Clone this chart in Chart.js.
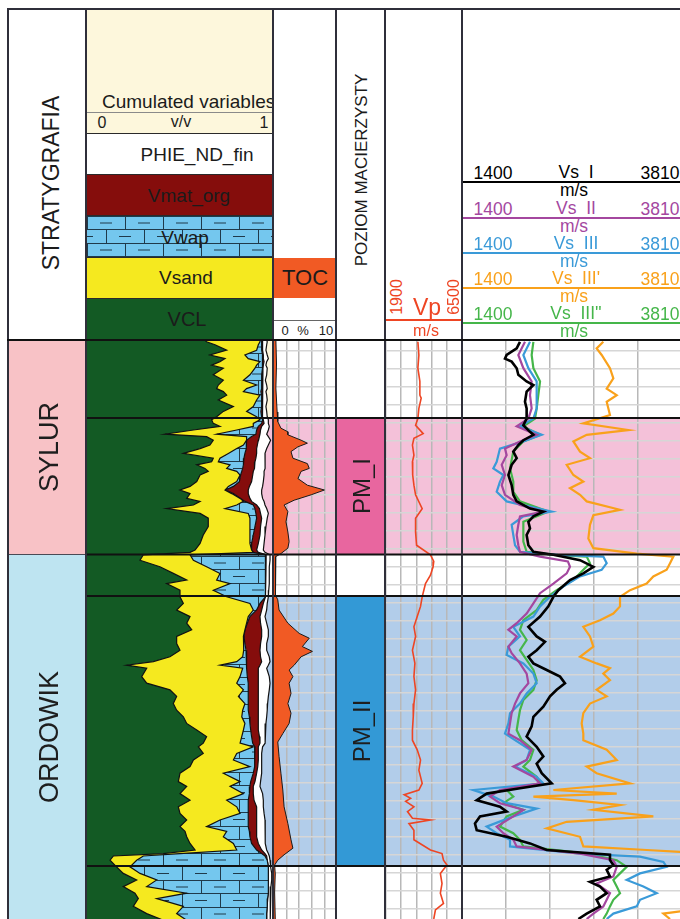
<!DOCTYPE html>
<html>
<head>
<meta charset="utf-8">
<title>Profil otworu</title>
<script src="https://cdn.jsdelivr.net/npm/chart.js@4.4.0/dist/chart.umd.min.js"></script>
<style>
  html, body { margin: 0; padding: 0; background: #fff; }
  #log { position: relative; width: 680px; height: 919px; overflow: hidden;
         font-family: "Liberation Sans", Arial, sans-serif; color: #1b1b1b; }
  .abs { position: absolute; }
  .trk { position: absolute; top: 340px; height: 579px; }
  .sep { position: absolute; top: 8px; width: 2px; height: 911px; background: #2f2f3a; z-index: 5; }
  .rot { position: absolute; transform: translate(-50%, -50%) rotate(-90deg); white-space: nowrap; line-height: 1; z-index: 6; }
  .ctr { position: absolute; transform: translate(-50%, -50%); white-space: nowrap; line-height: 1; z-index: 6; }
  .box { position: absolute; left: 87px; width: 185px; border-top: 1.5px solid #2a2a2a; box-sizing: border-box; }
</style>
</head>
<body>
<div id="log">
  <!-- header: stratigraphy -->
  <div class="rot" style="left:51px;top:183px;font-size:23px">STRATYGRAFIA</div>

  <!-- header: cumulated variables -->
  <div class="abs" style="left:87px;top:9px;width:185px;height:124px;background:#fdf7dc;overflow:hidden">
    <div class="abs" style="left:15px;top:83px;font-size:19px;white-space:nowrap;line-height:1">Cumulated variables</div>
    <div class="abs" style="left:0;top:103px;width:185px;height:1px;background:#8a8a8a"></div>
  </div>
  <div class="ctr" style="left:102px;top:123px;font-size:16px">0</div>
  <div class="ctr" style="left:181px;top:122px;font-size:16px">v/v</div>
  <div class="ctr" style="left:264px;top:123px;font-size:16px">1</div>
  <div class="box" style="top:133px;height:41px;background:#fff"></div>
  <div class="box" style="top:174px;height:41px;background:#850d0c"></div>
  <div class="box" id="wapBox" style="top:215px;height:42px;background-color:#74c7ee"></div>
  <div class="box" style="top:257px;height:41px;background:#f5e91f"></div>
  <div class="box" style="top:298px;height:42px;background:#135a24"></div>
  <div class="ctr" style="left:197px;top:154px;font-size:19px">PHIE_ND_fin</div>
  <div class="ctr" style="left:189px;top:195px;font-size:19px">Vmat_org</div>
  <div class="ctr" style="left:185px;top:237px;font-size:19px">Vwap</div>
  <div class="ctr" style="left:186px;top:277px;font-size:19px">Vsand</div>
  <div class="ctr" style="left:187px;top:319px;font-size:20px">VCL</div>

  <!-- header: TOC -->
  <div class="abs" style="left:274px;top:258px;width:61px;height:40px;background:#f15a24"></div>
  <div class="ctr" style="left:305px;top:278px;font-size:22px">TOC</div>
  <div class="abs" style="left:274px;top:320px;width:61px;height:1px;background:#666"></div>
  <div class="ctr" style="left:285px;top:330px;font-size:13px">0</div>
  <div class="ctr" style="left:303px;top:330px;font-size:13px">%</div>
  <div class="ctr" style="left:326px;top:330px;font-size:13px">10</div>

  <!-- header: source rock level -->
  <div class="rot" style="left:361px;top:170px;font-size:17px">POZIOM MACIERZYSTY</div>

  <!-- header: Vp -->
  <div class="abs" style="left:386px;top:319px;width:75px;height:2px;background:#ee4523"></div>
  <div class="rot" id="vpMin" style="left:397px;top:297px;font-size:16px;color:#ee4523"></div>
  <div class="rot" id="vpMax" style="left:454px;top:297px;font-size:16px;color:#ee4523"></div>
  <div class="ctr" style="left:427px;top:307px;font-size:23px;color:#ee4523">Vp</div>
  <div class="ctr" style="left:426px;top:331px;font-size:16px;color:#ee4523">m/s</div>

  <!-- tracks -->
  <div class="trk" style="left:8px;width:77px"><canvas id="stratChart"></canvas></div>
  <div class="trk" style="left:87px;width:186px"><canvas id="cumChart"></canvas></div>
  <div class="trk" style="left:274px;width:63px"><canvas id="tocChart"></canvas></div>
  <div class="trk" style="left:337px;width:48px"><canvas id="levelChart"></canvas></div>
  <div class="trk" style="left:386px;width:76px"><canvas id="vpChart"></canvas></div>
  <div class="trk" style="left:462px;width:220px"><canvas id="vsChart"></canvas></div>

  <!-- frame and track separators -->
  <div class="abs" style="left:7px;top:8px;width:673px;height:1.5px;background:#2f2f3a;z-index:5"></div>
  <div class="sep" style="left:7px;width:1.5px"></div>
  <div class="sep" style="left:85px"></div>
  <div class="sep" style="left:272px"></div>
  <div class="sep" style="left:335px"></div>
  <div class="sep" style="left:384px"></div>
  <div class="sep" style="left:461px"></div>
  <div class="abs" style="left:7px;top:339px;width:673px;height:2px;background:#111;z-index:5"></div>
</div>

<script>
// depth in metres below the top of the shown interval
const DEPTH_TOP = 0, DEPTH_BASE = 96.5;
const GRID_FIRST = 1.83, GRID_STEP = 3;

const horizonDepth = [13.0, 35.75, 42.67, 87.67];
const formationName = ["SYLUR", "ORDOWIK"];
const formationTop = [0, 35.75];
const formationBase = [35.75, 96.5];
const levelName = ["PM_I", "PM_II"];
const levelTop = [13.0, 42.67];
const levelBase = [35.75, 87.67];

// --------------------
// Cumulated variables (v/v), upper boundary of each component
// --------------------
const cumDepth = [0,0.3,0.8,1.7,2.5,3.1,3.6,4.2,4.7,5.8, 6.7,7.5,8.1,8.6,9.2,10.0,11.1,11.9,12.8,13.3,
  13.9,14.4,15.0,15.7,16.1,16.7,17.5,18.1,18.9,19.7, 20.3,20.8,21.4,21.9,22.5,23.6,24.4,25.0,25.6,26.4,
  26.9,27.5,28.1,28.9,29.7,31.1,32.5,33.9,35.0,35.4, 35.8,36.7,37.8,38.9,40.0,40.6,41.7,42.8,43.9,45.0,
  46.1,47.2,48.3,49.4,50.6,51.7,52.8,53.6,54.2,54.7, 56.1,57.2,58.3,59.4,60.6,61.7,62.8,63.9,65.0,66.1,
  67.2,67.8,68.9,70.0,71.1,72.2,73.6,74.4,75.6,76.7, 77.8,78.9,80.0,81.1,81.9,82.8,83.9,85.0,85.6,86.0,
  86.7,87.8,88.9,90.0,91.1,92.2,93.1,94.4,95.6,96.7];
const cumVCL = [.634,.643,.688,.751,.661,.742,.715,.670,.733,.679, .733,.706,.697,.733,.751,.706,.787,.733,.697,.670,
  .679,.715,.572,.419,.643,.679,.661,.608,.518,.679, .670,.590,.634,.652,.608,.590,.554,.500,.554,.536,
  .608,.572,.428,.608,.652,.652,.625,.608,.581,.554, .303,.285,.392,.464,.536,.428,.500,.500,.518,.482,
  .554,.536,.563,.482,.482,.500,.446,.357,.213,.321, .294,.321,.446,.482,.464,.482,.518,.536,.590,.643,
  .625,.599,.625,.572,.554,.500,.491,.536,.500,.554, .491,.500,.536,.500,.527,.536,.554,.581,.410,.142,
  .124,.159,.195,.267,.195,.258,.276,.249,.321,.410];
const cumVsand = [.930,.930,.921,.912,.849,.867,.930,.912,.903,.876, .841,.912,.858,.841,.930,.912,.894,.858,.912,.930,
  .894,.894,.805,.697,.858,.858,.841,.805,.760,.715, .706,.769,.751,.805,.823,.805,.760,.742,.778,.823,
  .841,.805,.742,.867,.876,.876,.876,.876,.885,.894, .554,.572,.643,.715,.697,.769,.679,.751,.876,.894,
  .867,.858,.849,.841,.841,.844,.837,.805,.715,.837, .823,.805,.841,.814,.849,.837,.832,.849,.841,.832,
  .823,.894,.805,.787,.876,.733,.823,.769,.841,.751, .805,.823,.715,.643,.751,.733,.787,.805,.500,.303,
  .267,.231,.285,.375,.321,.536,.375,.518,.482,.536];
const cumVwap = [.939,.939,.939,.939,.944,.944,.944,.944,.941,.939, .939,.939,.939,.935,.939,.939,.939,.935,.939,.944,
  .939,.921,.912,.908,.885,.858,.858,.855,.849,.844, .841,.841,.837,.832,.826,.819,.787,.746,.787,.826,
  .849,.894,.903,.908,.912,.903,.894,.885,.885,.894, .962,.962,.962,.959,.959,.959,.957,.957,.930,.912,
  .876,.862,.849,.844,.849,.855,.858,.858,.858,.858, .862,.867,.867,.867,.867,.867,.873,.876,.880,.885,
  .891,.903,.903,.903,.898,.894,.880,.876,.873,.867, .867,.867,.867,.867,.873,.876,.885,.912,.939,.957,
  .969,.975,.975,.975,.975,.975,.971,.969,.966,.966];
const cumVmatOrg = [.944,.944,.944,.944,.948,.948,.952,.948,.946,.944, .944,.944,.944,.941,.944,.944,.944,.943,.944,.948,
  .952,.939,.933,.930,.927,.921,.916,.912,.912,.908, .903,.903,.898,.894,.891,.885,.873,.867,.867,.876,
  .885,.912,.927,.933,.939,.933,.930,.921,.912,.921, .962,.962,.962,.959,.959,.959,.957,.957,.948,.939,
  .930,.933,.939,.939,.933,.930,.933,.939,.930,.921, .921,.921,.921,.921,.921,.921,.921,.921,.921,.927,
  .930,.921,.921,.921,.918,.912,.903,.894,.894,.898, .912,.912,.912,.912,.912,.912,.921,.939,.957,.966,
  .969,.975,.975,.975,.975,.975,.971,.969,.966,.966];
const cumPHIE = [.966,.969,.966,.962,.969,.975,.966,.962,.969,.966, .959,.966,.969,.962,.966,.969,.962,.966,.969,.975,
  .975,.980,.975,.966,.975,.987,.975,.966,.957,.959, .957,.957,.957,.952,.952,.948,.944,.939,.939,.944,
  .952,.957,.966,.975,.969,.962,.957,.952,.948,.957, .984,.984,.980,.980,.980,.980,.977,.975,.969,.966,
  .957,.966,.975,.975,.966,.966,.980,.984,.975,.966, .980,.984,.980,.975,.971,.969,.966,.962,.959,.957,
  .957,.944,.939,.939,.939,.939,.933,.930,.944,.948, .948,.952,.957,.957,.957,.957,.962,.966,.975,.980,
  .984,.987,.993,.993,.989,.987,.987,.984,.984,.984];

// --------------------
// TOC (%)
// --------------------
const tocDepth = [0,4,8,12,13.6,14.7,15.3,15.8,16.7,17.2, 17.8,18.6,19.7,20.6,21.4,21.9,23.1,24.2,25.0,25.8,
  26.7,27.5,28.6,30.3,32.0,33.6,34.7,35.6,36.1,37.0, 40.0,42.5,43.3,45.0,47.2,48.9,49.7,51.1,51.9,52.8,
  54.2,55.0,56.1,57.2,58.9,60.6,62.2,63.9,65.6,67.0, 69.4,72.2,75.0,77.8,80.6,83.3,84.7,85.8,86.7,87.5,
  89.0,92.0,96.5];
const toc = [0.3,0.4,0.3,0.5,0.6,1.1,2.2,2.2,4.3,5.3, 3.8,2.7,3.0,5.3,5.6,4.3,3.8,5.3,8.0,5.9,
  3.2,1.6,2.2,1.9,2.2,2.4,2.2,1.1,0.3,0.2, 0.2,0.3,0.6,0.8,2.2,4.0,5.6,4.5,6.1,4.3,
  3.2,2.4,3.0,2.4,2.7,2.2,2.7,2.4,1.4,0.6, 0.8,1.1,1.4,1.6,2.2,2.7,3.0,1.6,0.6,0.1,
  0.2,0.1,0.2];

// --------------------
// Vp (m/s)
// --------------------
const VP_MIN = 1900, VP_MAX = 6500;
const vpDepth = [0.3,2.5,4.7,6.9,9.2,9.7,11.4,13.1,14.2,15.6, 16.4,17.5,19.2,20.3,21.4,22.5,24.2,25.8,28.1,29.7,
  32.0,34.2,35.8,36.9,37.8,39.2,40.6,41.7,42.8,44.4, 46.1,47.8,49.4,51.7,53.9,56.1,58.3,60.6,62.8,65.0,
  66.7,68.3,70.0,71.7,73.9,75.0,75.8,76.4,76.9,77.8, 78.6,79.7,80.0,80.6,81.7,83.3,85.0,85.6,86.7,87.5,
  88.9,90.6,92.2,93.9,95.0,96.5];
const vp = [3830,3890,3830,3950,3950,4030,3890,3830,3690,4150, 3590,3500,3590,3500,3530,3500,3590,3690,4090,3690,
  3690,3750,4590,4790,4750,4590,4290,4190,4090,3990, 3790,3590,3690,3500,3650,3590,3690,3590,3550,3500,
  3500,3790,3990,3890,4090,3890,3000,3390,3090,3590, 3200,3500,4590,3290,3590,3590,4590,5290,5380,5590,
  5190,5290,5190,5380,4890,4790];

// --------------------
// Vs (m/s), five variants
// --------------------
const VS_MIN = 1400, VS_MAX = 3810;
const vsIDepth = [0.3,1.4,2.5,3.1,3.6,4.7,5.8,6.9,7.5,8.6, 10.3,11.4,13.1,14.2,15.3,15.8,16.7,17.5,18.6,19.7,
  20.8,22.5,24.2,25.8,26.9,28.1,28.6,29.4,30.3,31.4, 32.5,34.2,35.3,35.8,36.7,37.8,38.9,40.0,41.7,42.8,
  44.4,46.1,47.8,49.4,50.3,51.7,52.8,53.9,55.0,56.1, 57.2,58.3,59.4,61.1,62.8,64.4,66.1,67.8,69.4,70.6,
  72.2,73.9,74.7,75.6,76.7,77.8,78.6,79.4,80.6,81.7, 82.8,83.9,85.0,85.8,86.7,87.5,88.3,89.4,90.3,91.1,
  92.2,93.3,94.4,95.6,96.5];
const vsI = [2035,1999,1889,1871,1944,1999,2017,2108,2182,2108, 2090,2108,2108,2072,2145,2182,2072,2017,1962,1999,
  1944,1908,1944,1962,1999,2145,2291,2182,2127,2145, 2108,2127,2182,2401,2693,2839,2729,2583,2455,2401,
  2346,2255,2127,2218,2309,2218,2127,2182,2328,2474, 2528,2437,2364,2291,2182,2163,2108,2218,2291,2218,
  2273,2382,2035,1670,1561,1816,1889,1597,1542,1561, 1889,2145,2328,3021,3021,3058,2985,3021,2802,2912,
  2985,2875,2912,2766,2675];
const vsIIDepth = [0.3,2.5,4.7,6.9,9.2,11.4,13.1,14.4,15.8,16.9, 18.1,19.2,20.8,22.5,24.2,25.8,27.5,28.6,29.4,30.8,
  32.5,34.2,35.3,36.1,36.9,37.8,38.9,40.6,42.2,43.9, 45.6,47.2,48.3,49.4,51.1,52.2,53.9,55.6,57.2,58.9,
  60.6,62.2,63.9,65.6,66.7,68.3,70.0,71.1,72.8,73.9, 75.0,76.1,77.2,78.3,79.4,81.1,82.2,83.3,84.4,85.6,
  86.7,87.8,89.4,90.6,92.2,93.3,94.4,95.6,96.5];
const vsII = [2090,2017,2072,2163,2145,2163,2127,1999,2218,2035, 1871,1889,1835,1871,1835,1871,2035,2291,2035,2017,
  1999,2017,2035,2255,2560,2583,2547,2401,2255,2182, 2108,1999,1908,1999,1908,1944,2035,2108,2127,2035,
  1981,1944,1926,1908,2035,2163,2108,1962,2182,2255, 1816,1707,1816,2072,1962,1780,1853,1962,1999,2693,
  3058,3095,3058,2875,3021,2985,2948,2839,2766];
const vsIIIDepth = [0.3,2.5,4.7,6.9,9.2,11.4,13.1,14.4,15.8,16.9, 18.1,20.3,21.4,22.5,23.6,25.3,26.9,28.6,29.4,30.8,
  32.5,34.2,35.3,35.8,36.1,37.2,38.3,39.4,41.1,42.8, 44.4,46.1,47.8,49.4,51.1,52.5,53.9,55.6,57.2,58.9,
  60.6,62.2,63.9,65.6,66.7,68.3,70.0,71.1,72.8,73.9, 75.0,76.1,77.2,78.1,79.4,81.1,82.2,83.3,84.4,85.6,
  86.1,87.0,87.8,88.9,90.0,91.1,92.2,93.3,94.4,95.6, 96.5];
const vsIII = [2145,2072,2127,2218,2218,2218,2182,2035,2273,2072, 1816,1780,1743,1853,1816,1780,1889,2382,2072,1944,
  1962,1981,2035,2450,2948,2985,2930,2693,2510,2364, 2255,2182,1962,2035,1908,1889,2072,2182,2218,2108,
  2035,1926,1908,1871,1981,2145,2108,1981,2218,2291, 1524,1743,1889,2218,1962,1670,1780,1926,1926,2693,
  3350,3606,3642,3350,3204,3387,3533,3350,3314,3058, 2985];
const vsIII1Depth = [0.3,1.4,2.5,4.7,6.4,8.1,9.2,10.3,12.5,13.9, 15.0,15.8,16.9,18.6,19.7,20.8,22.5,23.6,24.7,25.8,
  26.9,28.3,29.2,30.8,33.1,34.7,35.6,36.1,37.2,38.3, 39.4,40.6,41.7,42.8,44.4,45.6,46.7,47.8,49.4,51.1,
  52.8,53.9,54.7,55.6,56.7,58.3,59.4,60.6,62.2,63.9, 65.6,66.7,68.3,70.0,71.1,72.2,73.9,75.0,75.6,76.1,
  76.7,77.5,78.3,79.4,80.3,81.4,82.8,84.4,85.0,85.3, 86.0,94.8,95.6,96.5];
const vsIII1 = [2948,2875,2930,3021,3058,2985,3095,2985,3021,2729, 3222,2766,2620,2693,2802,2547,2620,2729,2583,2693,
  2766,3131,2839,2802,2784,2839,3314,3715,3679,3642, 3496,3423,3241,3131,3131,3058,2912,2729,2802,2839,
  2693,2875,3021,2948,3021,2875,2985,2802,2729,2711, 2729,2729,2985,3095,2766,2875,3241,2401,3095,2182,
  2620,3131,2839,3496,2547,2328,2693,2729,3423,3788, 4000,4000,3606,3679];
const vsIII2Depth = [0.3,2.5,4.7,6.9,9.2,11.4,13.1,14.4,15.8,16.9, 18.6,21.4,23.6,25.3,26.9,28.6,30.3,31.4,33.6,35.3,
  35.8,36.1,37.2,38.3,40.0,41.7,43.3,45.0,46.7,48.3, 50.0,51.7,53.3,55.0,56.7,58.3,60.0,61.7,63.3,65.0,
  66.7,68.3,70.0,71.1,72.8,73.9,75.0,76.1,77.2,78.3, 79.4,81.1,82.2,83.3,84.4,85.6,86.7,87.8,88.9,90.0,
  91.1,92.2,93.3,94.4,95.6,96.5];
const vsIII2 = [2182,2163,2182,2255,2236,2218,2200,2072,2255,2072, 1962,1926,1962,1962,2035,2346,2072,2072,2072,2108,
  2400,2766,2802,2729,2620,2437,2291,2218,2072,2035, 2108,2035,2108,2182,2218,2182,2072,2035,2017,1999,
  2054,2182,2145,2072,2218,2255,1889,1962,1853,2072, 1889,1816,1962,2035,2072,2766,3095,3204,3131,3058,
  3095,3131,3058,3021,2985,2948];

const vsNames = ["Vs_I", "Vs_II", "Vs_III", "Vs_III'", "Vs_III''"];
const vsColors = ["#000000", "#a4479f", "#3a9ad8", "#f9a11b", "#45b64a"];
const vsHeaderY = [182, 218, 253, 288, 323];

// colours
const C = {
  vcl: "#135a24", sand: "#f5e91f", wap: "#74c7ee", mat: "#850d0c", phie: "#ffffff",
  toc: "#f15a24", vp: "#ee4523", cream: "#fdf6dc",
  bandI: "#f4c1d9", bandII: "#b2cdea", boxI: "#e8669f", boxII: "#3399d6",
  sylur: "#f8c2c6", ordowik: "#bee4f1"
};
const levelBand = [C.bandI, C.bandII];
const levelBox = [C.boxI, C.boxII];
const formationColor = [C.sylur, C.ordowik];

// --------------------
// limestone brick pattern for Vwap
// --------------------
const tile = document.createElement("canvas");
tile.width = 38; tile.height = 27;
(function () {
  const g = tile.getContext("2d");
  g.fillStyle = C.wap; g.fillRect(0, 0, 38, 27);
  g.strokeStyle = "#1f3a4a"; g.lineWidth = 1;
  g.beginPath();
  g.moveTo(0, 0.5); g.lineTo(38, 0.5);
  g.moveTo(0, 13.5); g.lineTo(38, 13.5);
  g.moveTo(0.5, 0); g.lineTo(0.5, 13.5);
  g.moveTo(19.5, 13.5); g.lineTo(19.5, 27);
  g.moveTo(13, 7); g.lineTo(25, 7);
  g.moveTo(32, 20.5); g.lineTo(38, 20.5); g.moveTo(0, 20.5); g.lineTo(6, 20.5);
  g.stroke();
})();
document.getElementById("wapBox").style.backgroundImage = "url(" + tile.toDataURL() + ")";
const brick = document.getElementById("cumChart").getContext("2d").createPattern(tile, "repeat");

// --------------------
// zones under the grid, horizons over the curves
// --------------------
Chart.register({
  id: "bands",
  defaults: { zones: [], lines: [], lineColor: "#111", lineWidth: 2 },
  beforeDraw(chart, args, opts) {
    const { ctx, chartArea: a, scales: { y } } = chart;
    ctx.save();
    opts.zones.forEach(z => {
      const y0 = y.getPixelForValue(z.from), y1 = y.getPixelForValue(z.to);
      ctx.fillStyle = z.color;
      ctx.fillRect(a.left, y0, a.right - a.left, y1 - y0);
    });
    ctx.restore();
  },
  afterDraw(chart, args, opts) {
    const { ctx, chartArea: a, scales: { y } } = chart;
    ctx.save();
    ctx.strokeStyle = opts.lineColor;
    ctx.lineWidth = opts.lineWidth;
    opts.lines.forEach(d => {
      const p = y.getPixelForValue(d);
      ctx.beginPath(); ctx.moveTo(a.left, p); ctx.lineTo(a.right, p); ctx.stroke();
    });
    ctx.restore();
  }
});

const gridDepths = [];
for (let d = GRID_FIRST; d < DEPTH_BASE; d += GRID_STEP) gridDepths.push(d);

function depthAxis(showGrid) {
  return {
    type: "linear", reverse: true, min: DEPTH_TOP, max: DEPTH_BASE,
    afterFit: s => { s.width = 0; },
    afterBuildTicks: s => { s.ticks = gridDepths.map(v => ({ value: v })); },
    ticks: { display: false },
    grid: { display: showGrid, color: "#d6d6d6", lineWidth: 1.5, drawTicks: false },
    border: { display: false }
  };
}

function valueAxis(min, max, divisions, showGrid) {
  return {
    type: "linear", position: "bottom", min: min, max: max,
    afterFit: s => { s.height = 0; },
    afterBuildTicks: s => {
      s.ticks = [];
      for (let i = 0; i <= divisions; i++) s.ticks.push({ value: min + (max - min) * i / divisions });
    },
    ticks: { display: false },
    grid: { display: showGrid, color: "#b8b8b8", lineWidth: 1.5, drawTicks: false },
    border: { display: false }
  };
}

function curve(depth, values, color, width, extra) {
  return Object.assign({
    data: depth.map((d, i) => ({ x: values[i], y: d })),
    borderColor: color, borderWidth: width, pointRadius: 0, tension: 0, fill: false
  }, extra || {});
}

function track(id, xAxis, showGrid, datasets, bands) {
  return new Chart(document.getElementById(id), {
    type: "line",
    data: { datasets: datasets },
    options: {
      indexAxis: "y",
      animation: false,
      responsive: true,
      maintainAspectRatio: false,
      events: [],
      layout: { padding: 0, autoPadding: false },
      plugins: { legend: { display: false }, tooltip: { enabled: false }, bands: bands },
      scales: { x: xAxis, y: depthAxis(showGrid) }
    }
  });
}

const levelZones = levelName.map((n, i) => ({ from: levelTop[i], to: levelBase[i], color: levelBand[i] }));

// --------------------
// Stratigraphy
// --------------------
const stratChart = track("stratChart", valueAxis(0, 1, 1, false), false, [], {
  zones: formationName.map((n, i) => ({ from: formationTop[i], to: formationBase[i], color: formationColor[i] })),
  lines: [formationBase[0]], lineColor: "#4a4a55", lineWidth: 1.2
});

// --------------------
// Cumulated variables
// --------------------
track("cumChart", valueAxis(0, 1, 5, false), false, [
  curve(cumDepth, cumVCL, "#111", 1.2, { fill: { value: 0 }, backgroundColor: C.vcl }),
  curve(cumDepth, cumVsand, "#111", 1.2, { fill: "-1", backgroundColor: C.sand }),
  curve(cumDepth, cumVwap, "#111", 1.2, { fill: "-1", backgroundColor: brick }),
  curve(cumDepth, cumVmatOrg, "#111", 1.2, { fill: "-1", backgroundColor: C.mat }),
  curve(cumDepth, cumPHIE, "#111", 1.2, { fill: "-1", backgroundColor: C.phie })
], { zones: [{ from: DEPTH_TOP, to: levelTop[0], color: C.cream }].concat(levelZones), lines: horizonDepth });

// --------------------
// TOC
// --------------------
track("tocChart", valueAxis(0, 10, 5, true), true, [
  curve(tocDepth, toc, "#1a1a1a", 1, { fill: { value: 0 }, backgroundColor: C.toc })
], { zones: levelZones, lines: horizonDepth });

// --------------------
// Source rock levels
// --------------------
const levelChart = track("levelChart", valueAxis(0, 1, 1, false), false, [], {
  zones: levelName.map((n, i) => ({ from: levelTop[i], to: levelBase[i], color: levelBox[i] })),
  lines: horizonDepth
});

// --------------------
// Vp
// --------------------
track("vpChart", valueAxis(VP_MIN, VP_MAX, 5, true), true, [
  curve(vpDepth, vp, C.vp, 1.6)
], { zones: levelZones, lines: horizonDepth });

// --------------------
// Vs
// --------------------
track("vsChart", valueAxis(VS_MIN, VS_MAX, 5, true), true, [
  curve(vsIDepth, vsI, vsColors[0], 2.6),
  curve(vsIIDepth, vsII, vsColors[1], 2.2),
  curve(vsIIIDepth, vsIII, vsColors[2], 2.2),
  curve(vsIII2Depth, vsIII2, vsColors[4], 2.2),
  curve(vsIII1Depth, vsIII1, vsColors[3], 2.2)
], { zones: levelZones, lines: horizonDepth });

// --------------------
// text labels placed from the depth scale
// --------------------
const logDiv = document.getElementById("log");
function label(cls, x, y, text, size, color) {
  const el = document.createElement("div");
  el.className = cls;
  el.style.left = x + "px";
  el.style.top = y + "px";
  el.style.fontSize = size + "px";
  if (color) el.style.color = color;
  el.textContent = text;
  logDiv.appendChild(el);
}
function midPixel(chart, top, base) {
  const y = chart.scales.y;
  return 340 + (y.getPixelForValue(top) + y.getPixelForValue(Math.min(base, y.max))) / 2;
}
formationName.forEach((n, i) => label("rot", 49, midPixel(stratChart, formationTop[i], formationBase[i]), n, 27, "#1e1e1e"));
levelName.forEach((n, i) => label("rot", 362, midPixel(levelChart, levelTop[i], levelBase[i]), n, 24, "#1e1e1e"));

document.getElementById("vpMin").textContent = VP_MIN;
document.getElementById("vpMax").textContent = VP_MAX;

vsNames.forEach((n, i) => {
  const y = vsHeaderY[i];
  const line = document.createElement("div");
  line.className = "abs";
  line.style.cssText = "left:463px;top:" + (y - 1) + "px;width:217px;height:2px;background:" + vsColors[i];
  logDiv.appendChild(line);
  label("ctr", 493, y - 8, String(VS_MIN), 17.5, vsColors[i]);
  label("ctr", 576, y - 9, n, 17.5, vsColors[i]);
  label("ctr", 660, y - 8, String(VS_MAX), 17.5, vsColors[i]);
  label("ctr", 574, y + 9, "m/s", 17.5, vsColors[i]);
});
</script>
</body>
</html>
